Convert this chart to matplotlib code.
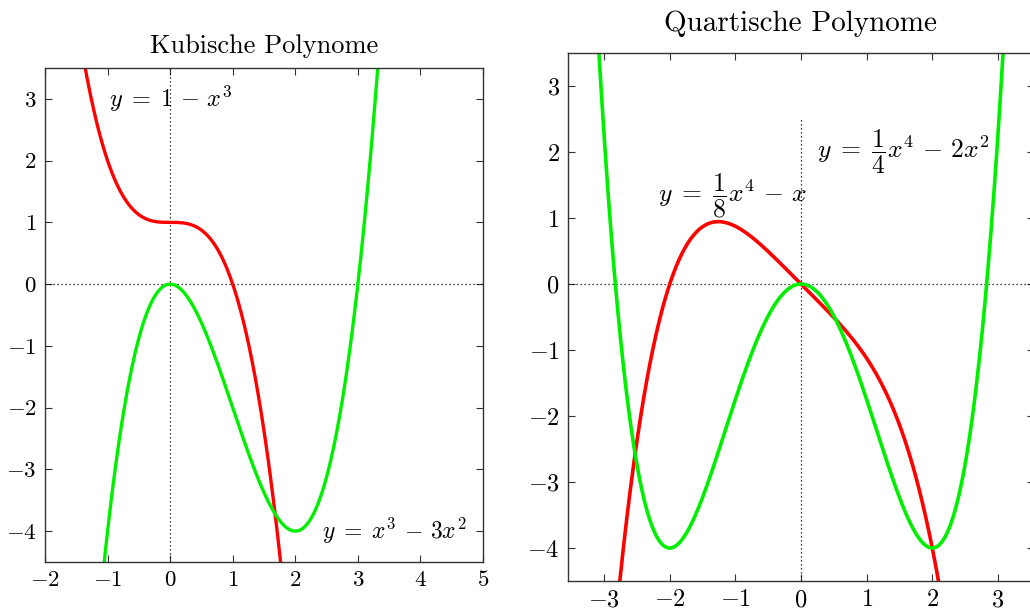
import numpy as np
import matplotlib
matplotlib.use('Agg')
import matplotlib.pyplot as plt

# Computer-Modern-Optik wie im Original
plt.rcParams['mathtext.fontset'] = 'cm'
plt.rcParams['font.family'] = 'serif'
plt.rcParams['font.serif'] = ['cmr10', 'DejaVu Serif']
plt.rcParams['axes.formatter.use_mathtext'] = True

# Koeffizienten (höchste Potenz zuerst)
kub_rot = [-1, 0, 0, 1]            # 1 - x^3
kub_gruen = [1, -3, 0, 0]          # x^3 - 3x^2
quart_rot = [-1 / 8, 0, 0, -1, 0]  # Kurve wie gezeichnet
quart_gruen = [1 / 4, 0, -2, 0, 0]  # 1/4 x^4 - 2x^2

kub_xticks = [-2, -1, 0, 1, 2, 3, 4, 5]
kub_yticks = [-4, -3, -2, -1, 0, 1, 2, 3]
quart_xticks = [-3, -2, -1, 0, 1, 2, 3]
quart_yticks = [-4, -3, -2, -1, 0, 1, 2, 3]

fig = plt.figure(figsize=(10.3, 6.12), dpi=100)
ax1 = fig.add_axes([45 / 1030, 1 - 562 / 612, 438 / 1030, 494 / 612])
ax2 = fig.add_axes([568 / 1030, 1 - 581 / 612, 466 / 1030, 528 / 612])

dots = (0, (1, 2.2))


def stil(ax, xticks, yticks, gr):
    ax.set_xticks(xticks)
    ax.set_yticks(yticks)
    ax.tick_params(direction='in', length=5, width=0.8, top=True, right=True,
                   labelsize=gr, pad=6, color='#333333')
    for s in ax.spines.values():
        s.set_color('#333333')
        s.set_linewidth(1.0)


# links: kubisch
x = np.linspace(-2, 5, 800)
ax1.axhline(0, color='black', lw=0.9, ls=dots)
ax1.axvline(0, color='black', lw=0.9, ls=dots)
ax1.plot(x, np.polyval(kub_rot, x), color='#ff0000', lw=2.4)
ax1.plot(x, np.polyval(kub_gruen, x), color='#00ee00', lw=2.4)
ax1.set_xlim(-2, 5)
ax1.set_ylim(-4.5, 3.5)
stil(ax1, kub_xticks, kub_yticks, 16.5)
ax1.set_title('Kubische Polynome', fontsize=19, pad=11)
ax1.text(-0.98, 3.0, r'$y\;=\;1\,-\,x^3$', fontsize=17.5, va='center')
ax1.text(2.42, -4.0, r'$y\;=\;x^3\,-\,3x^2$', fontsize=17, va='center')

# rechts: quartisch
x = np.linspace(-3.6, 3.6, 800)
ax2.axhline(0, color='black', lw=0.9, ls=dots)
ax2.vlines(0, -4.5, 2.5, color='black', lw=0.9, linestyles=[dots])
ax2.plot(x, np.polyval(quart_rot, x), color='#ff0000', lw=2.6)
ax2.plot(x, np.polyval(quart_gruen, x), color='#00ee00', lw=2.6)
ax2.set_xlim(-3.55, 3.55)
ax2.set_ylim(-4.5, 3.5)
stil(ax2, quart_xticks, quart_yticks, 17.5)
ax2.set_title('Quartische Polynome', fontsize=21, pad=16)
ax2.text(0.24, 2.0, r'$y\;=\;\dfrac{1}{4}x^4\,-\,2x^2$', fontsize=18.5, va='center')
ax2.text(-2.18, 1.33, r'$y\;=\;\dfrac{1}{8}x^4\,-\,x$', fontsize=18.5, va='center')

fig.savefig('out.png', dpi=100)
